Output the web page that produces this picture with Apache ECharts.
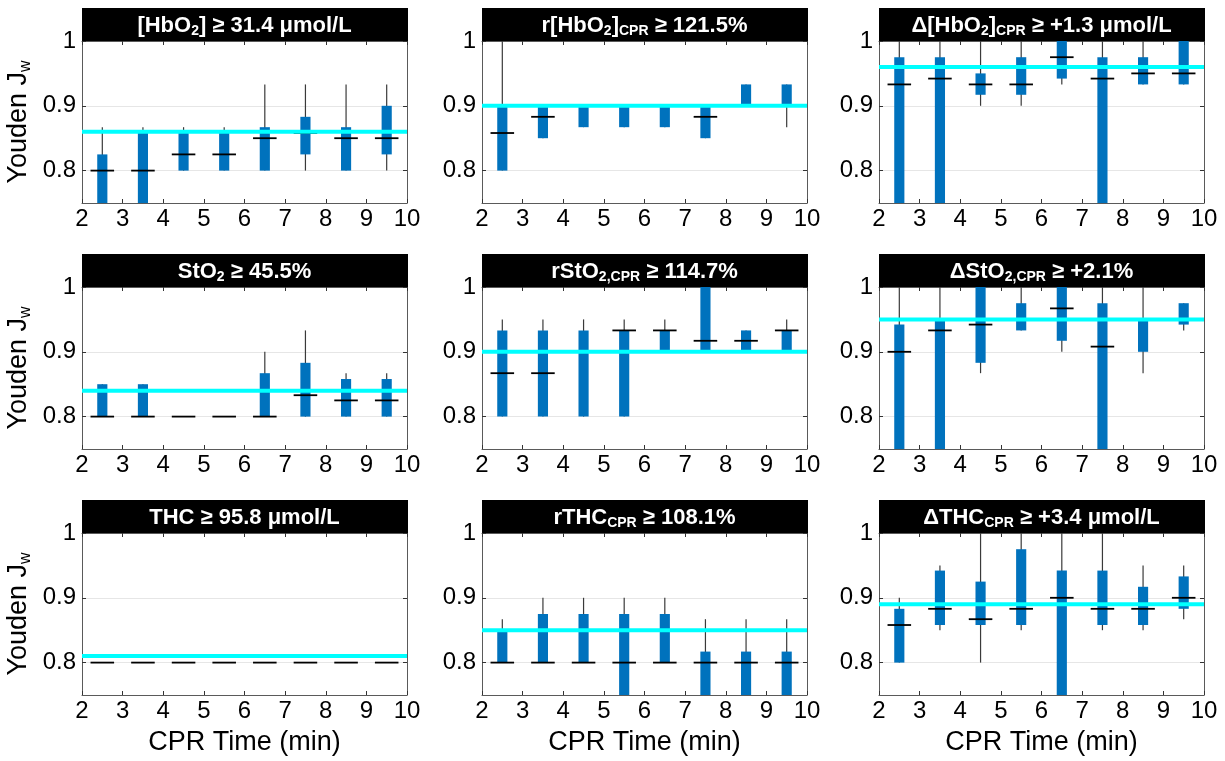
<!DOCTYPE html>
<html>
<head>
<meta charset="utf-8">
<script src="https://cdn.jsdelivr.net/npm/echarts@6/dist/echarts.min.js"></script>
<style>
html,body{margin:0;padding:0;background:#fff;}
#chart{width:1225px;height:761px;}
</style>
</head>
<body>
<div id="chart"></div>
<script>
// ---------------- DATA ----------------
// CPR time bin centres (min)
const times = [2.5, 3.5, 4.5, 5.5, 6.5, 7.5, 8.5, 9.5];

// Each row: [lower whisker, Q1, median, Q3, upper whisker] for one time bin
const hbo2Abs = [
  [0.70, 0.733, 0.80, 0.825, 0.867],
  [0.70, 0.733, 0.80, 0.858, 0.867],
  [0.80, 0.80, 0.825, 0.858, 0.867],
  [0.80, 0.80, 0.825, 0.858, 0.867],
  [0.80, 0.80, 0.85, 0.867, 0.933],
  [0.80, 0.825, 0.858, 0.883, 0.933],
  [0.80, 0.80, 0.85, 0.867, 0.933],
  [0.80, 0.825, 0.85, 0.90, 0.933]
];
const hbo2Rel = [
  [0.80, 0.80, 0.858, 0.90, 1.00],
  [0.85, 0.85, 0.883, 0.90, 0.90],
  [0.867, 0.867, 0.90, 0.90, 0.90],
  [0.867, 0.867, 0.90, 0.90, 0.90],
  [0.867, 0.867, 0.90, 0.90, 0.90],
  [0.85, 0.85, 0.883, 0.90, 0.90],
  [0.90, 0.90, 0.90, 0.933, 0.933],
  [0.867, 0.90, 0.90, 0.933, 0.933]
];
const hbo2Delta = [
  [0.70, 0.733, 0.933, 0.975, 1.00],
  [0.70, 0.733, 0.942, 0.975, 1.00],
  [0.90, 0.917, 0.933, 0.95, 1.00],
  [0.90, 0.917, 0.933, 0.975, 1.00],
  [0.933, 0.942, 0.975, 1.00, 1.00],
  [0.70, 0.733, 0.942, 0.975, 1.00],
  [0.933, 0.933, 0.95, 0.975, 1.00],
  [0.933, 0.933, 0.95, 1.00, 1.00]
];
const sto2Abs = [
  [0.80, 0.80, 0.80, 0.85, 0.85],
  [0.80, 0.80, 0.80, 0.85, 0.85],
  [0.80, 0.80, 0.80, 0.80, 0.80],
  [0.80, 0.80, 0.80, 0.80, 0.80],
  [0.80, 0.80, 0.80, 0.867, 0.90],
  [0.80, 0.80, 0.833, 0.883, 0.933],
  [0.80, 0.80, 0.825, 0.858, 0.867],
  [0.80, 0.80, 0.825, 0.858, 0.867]
];
const sto2Rel = [
  [0.80, 0.80, 0.867, 0.933, 0.95],
  [0.80, 0.80, 0.867, 0.933, 0.95],
  [0.80, 0.80, 0.90, 0.933, 0.95],
  [0.80, 0.80, 0.933, 0.933, 0.95],
  [0.90, 0.90, 0.933, 0.933, 0.95],
  [0.90, 0.90, 0.917, 1.00, 1.00],
  [0.90, 0.90, 0.917, 0.933, 0.933],
  [0.90, 0.90, 0.933, 0.933, 0.95]
];
const sto2Delta = [
  [0.70, 0.733, 0.90, 0.942, 1.00],
  [0.70, 0.733, 0.933, 0.95, 1.00],
  [0.867, 0.883, 0.942, 1.00, 1.00],
  [0.933, 0.933, 0.95, 0.975, 1.00],
  [0.90, 0.917, 0.967, 1.00, 1.00],
  [0.70, 0.733, 0.908, 0.975, 1.00],
  [0.867, 0.90, 0.95, 0.95, 1.00],
  [0.933, 0.942, 0.95, 0.975, 0.975]
];
const thcAbs = [
  [0.80, 0.80, 0.80, 0.80, 0.80],
  [0.80, 0.80, 0.80, 0.80, 0.80],
  [0.80, 0.80, 0.80, 0.80, 0.80],
  [0.80, 0.80, 0.80, 0.80, 0.80],
  [0.80, 0.80, 0.80, 0.80, 0.80],
  [0.80, 0.80, 0.80, 0.80, 0.80],
  [0.80, 0.80, 0.80, 0.80, 0.80],
  [0.80, 0.80, 0.80, 0.80, 0.80]
];
const thcRel = [
  [0.80, 0.80, 0.80, 0.85, 0.867],
  [0.80, 0.80, 0.80, 0.875, 0.90],
  [0.80, 0.80, 0.80, 0.875, 0.90],
  [0.70, 0.733, 0.80, 0.875, 0.90],
  [0.80, 0.80, 0.80, 0.875, 0.90],
  [0.70, 0.733, 0.80, 0.817, 0.867],
  [0.70, 0.733, 0.80, 0.817, 0.867],
  [0.70, 0.733, 0.80, 0.817, 0.867]
];
const thcDelta = [
  [0.80, 0.80, 0.858, 0.883, 0.90],
  [0.85, 0.858, 0.883, 0.942, 0.95],
  [0.80, 0.858, 0.867, 0.925, 1.00],
  [0.85, 0.858, 0.883, 0.975, 1.00],
  [0.70, 0.733, 0.90, 0.942, 1.00],
  [0.85, 0.858, 0.883, 0.942, 1.00],
  [0.85, 0.858, 0.883, 0.917, 0.95],
  [0.867, 0.883, 0.90, 0.933, 0.95]
];

// Overall (cyan) Youden J_w reference value for each panel
const overallJ = [0.86, 0.90, 0.96, 0.84, 0.90, 0.95, 0.81, 0.85, 0.89];

// Panel titles (rich text: n = normal, s = subscript)
const panelTitles = [
  '{n|[HbO}{s|2}{n|] ≥ 31.4 μmol/L}',
  '{n|r[HbO}{s|2}{n|]}{s|CPR}{n| ≥ 121.5%}',
  '{n|Δ[HbO}{s|2}{n|]}{s|CPR}{n| ≥ +1.3 μmol/L}',
  '{n|StO}{s|2}{n| ≥ 45.5%}',
  '{n|rStO}{s|2,CPR}{n| ≥ 114.7%}',
  '{n|ΔStO}{s|2,CPR}{n| ≥ +2.1%}',
  '{n|THC ≥ 95.8 μmol/L}',
  '{n|rTHC}{s|CPR}{n| ≥ 108.1%}',
  '{n|ΔTHC}{s|CPR}{n| ≥ +3.4 μmol/L}'
];
const panelData = [hbo2Abs, hbo2Rel, hbo2Delta, sto2Abs, sto2Rel, sto2Delta, thcAbs, thcRel, thcDelta];

const yTicks = [0.8, 0.9, 1.0];
const xLabelName = 'CPR Time (min)';
const yLabelName = '{n|Youden J}{w|w}';

// ---------------- LAYOUT ----------------
const Y_MIN = 0.75, Y_MAX = 1.0;
const X_MIN = 2, X_MAX = 10;
const colLeft = [82, 482, 879];
const rowTop = [41, 287, 533];
const plotW = 325, plotH = 162;
const barH = 33;
const FONT = 'Liberation Sans, Arial, Helvetica, sans-serif';
const AXIS_COLOR = '#5a5a5a';

const chart = echarts.init(document.getElementById('chart'), null, {renderer: 'canvas'});

const grids = [], xAxes = [], yAxes = [], series = [], graphics = [];

function clampY(v) { return Math.max(Y_MIN, Math.min(Y_MAX, v)); }

function renderBox(params, api) {
  const x = api.value(0);
  const lo = clampY(api.value(1));
  const q1 = clampY(api.value(2));
  const med = api.value(3);
  const q3 = clampY(api.value(4));
  const hi = clampY(api.value(5));
  const pLo = api.coord([x, lo]);
  const pHi = api.coord([x, hi]);
  const pQ1 = api.coord([x, q1]);
  const pQ3 = api.coord([x, q3]);
  const pMed = api.coord([x, med]);
  const boxW = api.size([0.25, 0])[0];
  const medHalf = api.size([0.29, 0])[0];
  const children = [];
  if (pLo[1] - pHi[1] > 0.5) {
    children.push({type: 'line', shape: {x1: pLo[0], y1: pLo[1], x2: pHi[0], y2: pHi[1]},
      style: {stroke: '#3a3a3a', lineWidth: 1.2}});
  }
  if (pQ1[1] - pQ3[1] > 0.5) {
    children.push({type: 'rect', shape: {x: pQ1[0] - boxW / 2, y: pQ3[1], width: boxW, height: pQ1[1] - pQ3[1]},
      style: {fill: '#0072BD'}});
  }
  if (med >= Y_MIN && med <= Y_MAX) {
    children.push({type: 'line', shape: {x1: pMed[0] - medHalf, y1: pMed[1], x2: pMed[0] + medHalf, y2: pMed[1]},
      style: {stroke: '#000', lineWidth: 1.8}});
  }
  return {type: 'group', children: children};
}

for (let i = 0; i < 9; i++) {
  const r = Math.floor(i / 3), c = i % 3;
  const left = colLeft[c], top = rowTop[r];
  grids.push({left: left, top: top, width: plotW, height: plotH, containLabel: false, show: false});

  const xBase = {
    type: 'value', gridIndex: i, min: X_MIN, max: X_MAX, interval: 1,
    axisLine: {show: true, onZero: false, lineStyle: {color: AXIS_COLOR, width: 1}},
    axisTick: {show: true, inside: true, length: 4, lineStyle: {color: '#333', width: 1}},
    splitLine: {show: false}
  };
  xAxes.push(Object.assign({}, xBase, {
    position: 'bottom',
    axisLabel: {show: true, color: '#000', fontSize: 24, fontFamily: FONT, margin: 4},
    name: r === 2 ? xLabelName : '',
    nameLocation: 'middle', nameGap: 34,
    nameTextStyle: {color: '#000', fontSize: 27, fontFamily: FONT}
  }));
  xAxes.push(Object.assign({}, xBase, {position: 'top', axisLabel: {show: false}}));

  const yBase = {
    type: 'value', gridIndex: i, min: Y_MIN, max: Y_MAX,
    axisLine: {show: true, onZero: false, lineStyle: {color: AXIS_COLOR, width: 1}},
    axisTick: {show: true, inside: true, length: 4, customValues: yTicks, lineStyle: {color: '#333', width: 1}}
  };
  yAxes.push(Object.assign({}, yBase, {
    position: 'left',
    axisLabel: {show: true, customValues: yTicks, color: '#000', fontSize: 24, fontFamily: FONT, margin: 6,
      formatter: v => (Math.abs(v - 1) < 1e-9 ? '1' : v.toFixed(1))},
    splitLine: {show: true, lineStyle: {color: '#e6e6e6', width: 1}},
    name: c === 0 ? yLabelName : '',
    nameLocation: 'middle', nameGap: 48, nameRotate: 90,
    nameTextStyle: {
      rich: {
        n: {fontSize: 27, fontFamily: FONT, color: '#000', lineHeight: 30, verticalAlign: 'middle'},
        w: {fontSize: 16, fontFamily: FONT, color: '#000', lineHeight: 12, verticalAlign: 'bottom'}
      }
    }
  }));
  yAxes.push(Object.assign({}, yBase, {position: 'right', axisLabel: {show: false}, splitLine: {show: false}}));

  const xi = 2 * i, yi = 2 * i;
  series.push({
    type: 'custom', xAxisIndex: xi, yAxisIndex: yi, z: 3,
    renderItem: renderBox,
    encode: {x: 0, y: [1, 2, 3, 4, 5]},
    data: times.map((t, k) => [t].concat(panelData[i][k])),
    silent: true, animation: false
  });
  series.push({
    type: 'line', xAxisIndex: xi, yAxisIndex: yi, z: 5,
    data: [[X_MIN, overallJ[i]], [X_MAX, overallJ[i]]],
    symbol: 'none', lineStyle: {color: '#00FFFF', width: 4}, silent: true, animation: false
  });

  // black title bar
  graphics.push({
    type: 'rect', z: 10,
    shape: {x: left, y: top - barH, width: plotW + 1, height: barH},
    style: {fill: '#000'}
  });
  graphics.push({
    type: 'text', z: 11,
    x: left + plotW / 2, y: top - barH / 2 + 1,
    style: {
      text: panelTitles[i], align: 'center', verticalAlign: 'middle', fill: '#fff',
      rich: {
        n: {fontSize: 22, fontWeight: 'bold', fontFamily: FONT, fill: '#fff', lineHeight: 26, verticalAlign: 'middle'},
        s: {fontSize: 14, fontWeight: 'bold', fontFamily: FONT, fill: '#fff', lineHeight: 10, verticalAlign: 'bottom'}
      }
    }
  });
}

chart.setOption({
  animation: false,
  backgroundColor: '#fff',
  grid: grids,
  xAxis: xAxes,
  yAxis: yAxes,
  series: series,
  graphic: graphics
});
</script>
</body>
</html>
